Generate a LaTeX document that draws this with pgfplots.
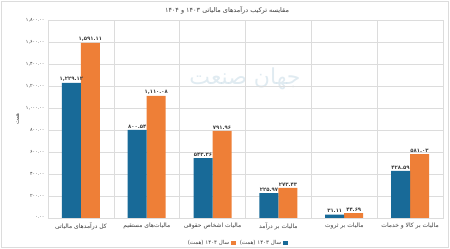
\documentclass[border=0pt]{standalone}
\usepackage{pgfplots}
\pgfplotsset{compat=1.18}
\usepackage{fontspec}
\setmainfont{DejaVu Sans}
\newfontfamily\fa[Script=Arabic]{DejaVu Sans}
\TeXXeTstate=1
\definecolor{cblue}{RGB}{24,106,152}
\definecolor{corange}{RGB}{238,127,55}
\definecolor{gridc}{RGB}{220,220,220}
\definecolor{txt}{RGB}{60,60,60}
\begin{document}
\begin{tikzpicture}[x=1pt,y=1pt]
\path[use as bounding box] (0,0) rectangle (450,249);
\draw[gridc, line width=0.5pt] (1.5,1.5) rectangle (448.5,247.5);
\node[font=\fa\fontsize{6.5}{8}\selectfont, text=txt] at (227,239) {\beginR مقایسه ترکیب درآمدهای مالیاتی ۱۴۰۳ و ۱۴۰۴\endR};
\node[font=\fa\fontsize{22}{24}\selectfont, text=cblue!30, opacity=0.45] at (245,170) {\beginR جهان صنعت\endR};
\begin{axis}[
  at={(48pt,31pt)}, anchor=south west,
  scale only axis, width=395pt, height=198pt,
  ybar=0pt, bar width=19pt,
  xmin=-0.5, xmax=5.5, ymin=0, ymax=1800,
  ytick={0,200,...,1800},
  yticklabels={{۰.۰۰},{۲۰۰.۰۰},{۴۰۰.۰۰},{۶۰۰.۰۰},{۸۰۰.۰۰},{۱,۰۰۰.۰۰},{۱,۲۰۰.۰۰},{۱,۴۰۰.۰۰},{۱,۶۰۰.۰۰},{۱,۸۰۰.۰۰}},
  yticklabel style={font=\fa\fontsize{4.8}{6}\selectfont, text=txt},
  xtick={0,1,2,3,4,5},
  xticklabels={
    {\beginR کل درآمدهای مالیاتی\endR},
    {\beginR مالیات‌های مستقیم\endR},
    {\beginR مالیات اشخاص حقوقی\endR},
    {\beginR مالیات بر درآمد\endR},
    {\beginR مالیات بر ثروت\endR},
    {\beginR مالیات بر کالا و خدمات\endR}},
  xticklabel style={font=\fa\fontsize{6}{7}\selectfont, text=txt, yshift=-1pt},
  minor xtick={0.5,1.5,2.5,3.5,4.5},
  xminorgrids=true, ymajorgrids=true,
  grid style={gridc, line width=0.5pt},
  minor grid style={gridc, line width=0.5pt},
  axis line style={gridc, line width=0.5pt},
  major tick length=0pt, minor tick length=0pt,
  ylabel={\beginR همت\endR},
  ylabel style={font=\fa\fontsize{5.5}{7}\selectfont, text=txt},
  legend columns=2,
  legend plot pos=right,
  legend style={at={(0.478,-0.126)}, anchor=center, draw=none, fill=none,
    font=\fa\fontsize{5.5}{7}\selectfont, text=txt,
    /tikz/every even column/.append style={column sep=2pt},
    inner sep=0pt},
  legend image code/.code={\fill[#1] (0pt,-2.3pt) rectangle (4.6pt,2.3pt);},
  nodes near coords,
  point meta=explicit symbolic,
  every node near coord/.append style={font=\fa\bfseries\fontsize{5.3}{6}\selectfont, text=txt, inner sep=1.5pt},
]
\addplot[fill=corange, draw=none, bar shift=9.5pt]
  table[x=x, y=y, meta=label]{
x y label
0 1591.11 ۱,۵۹۱.۱۱
1 1110.08 ۱,۱۱۰.۰۸
2 791.96 ۷۹۱.۹۶
3 273.43 ۲۷۳.۴۳
4 44.69 ۴۴.۶۹
5 581.03 ۵۸۱.۰۳
};
\addlegendentry{\beginR سال ۱۴۰۴ (همت)\endR}
\addplot[fill=cblue, draw=none, bar shift=-9.5pt]
  table[x=x, y=y, meta=label]{
x y label
0 1229.12 ۱,۲۲۹.۱۲
1 800.54 ۸۰۰.۵۴
2 543.36 ۵۴۳.۳۶
3 225.97 ۲۲۵.۹۷
4 31.11 ۳۱.۱۱
5 428.59 ۴۲۸.۵۹
};
\addlegendentry{\beginR سال ۱۴۰۳ (همت)\endR}
\end{axis}
\end{tikzpicture}
\end{document}
